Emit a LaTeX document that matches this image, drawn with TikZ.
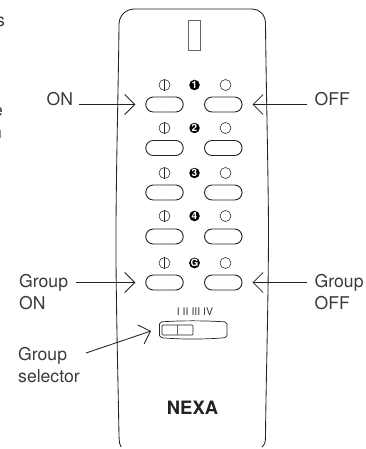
\documentclass[tikz,border=0pt]{standalone}
\usepackage{fontspec}
\setmainfont{TeX Gyre Heros}
\usetikzlibrary{arrows.meta,shapes.misc}
\definecolor{ink}{HTML}{222222}
\definecolor{txt}{HTML}{3A3A3A}
\tikzset{
  body/.style={line width=0.85pt,draw=ink},
  btn/.style={draw=ink,line width=0.9pt,rounded rectangle,minimum width=37.5pt,minimum height=15pt,inner sep=0pt},
  lamp/.style={draw=ink,line width=0.55pt,circle,minimum size=11pt,inner sep=0pt},
  num/.style={fill=black,circle,minimum size=10.5pt,inner sep=0pt,text=white,font=\fontsize{10}{10}\selectfont\bfseries},
  lbl/.style={text=txt,font=\fontsize{17.6}{22}\selectfont,inner sep=0pt,align=left},
  arr/.style={draw=ink,line width=0.85pt,-{Straight Barb[length=10pt,width=20pt,line width=0.85pt]}}
}
\begin{document}
\begin{tikzpicture}[x=1pt,y=-1pt]
\useasboundingbox (0,0) rectangle (366,449);
% fragments of text at the left edge
\node[lbl,anchor=base east] (fa) at (5,27) {s};
\node[lbl,anchor=base east] (fb) at (3,117) {e};
\node[lbl,anchor=base east] (fc) at (2,139) {n};
% body
\draw[body] (121,447) .. controls (119,444) and (119.5,442) .. (119,436)
  .. controls (118,380) and (115.5,280) .. (116,225)
  .. controls (116.5,150) and (118.5,80) .. (119,24)
  .. controls (119.5,14) and (127,9) .. (135,9)
  -- (252,9)
  .. controls (259,9) and (265,14) .. (265.5,23)
  .. controls (266,80) and (268,160) .. (268.5,225)
  .. controls (268.5,300) and (266,380) .. (265.5,436)
  .. controls (265.5,442) and (265,444) .. (262,447);
\node[draw=ink!70,line width=0.7pt,minimum width=12pt,minimum height=30pt,inner sep=0pt] (win) at (194,35) {};
% rows
\foreach \i/\y/\ly/\t in {1/104.5/85/1,2/148/128/2,3/192.5/173/3,4/236.5/216/4,5/282.5/263/G}{
  \node[btn] (bl\i) at (164.5,\y) {};
  \node[btn] (br\i) at (223.3,\y) {};
  \node[lamp] (cl\i) at (164.5,\ly) {};
  \draw[draw=ink,line width=0.55pt] (cl\i.north) -- (cl\i.south);
  \node[lamp] (cr\i) at (225.5,\ly) {};
  \node[num] (n\i) at (194.5,\ly) {\t};
}
% slider
\draw[draw=ink,line width=0.7pt,rounded corners=2pt] (159.5,322) .. controls (180,320.5) and (205,320.5) .. (227,322) -- (227,337.5) .. controls (205,339.5) and (180,339.5) .. (159.5,337.5) -- cycle;
\node[draw=ink,line width=0.7pt,rounded corners=1pt,minimum width=31pt,minimum height=10pt,inner sep=0pt] (knob) at (177.5,330) {};
\draw[draw=ink!70,line width=0.7pt] (knob.north) -- (knob.south);
\node[text=txt,font=\fontsize{10.5}{11}\selectfont,inner sep=0pt] (rom) at (195,311.5) {I II III IV};
\node[text=ink,font=\fontsize{18.4}{18}\selectfont\bfseries,inner sep=0pt] (brand) at (192.5,408) {NEXA};
% labels
\node[lbl,anchor=base west] (on) at (46.5,106) {ON};
\node[lbl,anchor=base west] (off) at (314.5,106) {OFF};
\node[lbl,anchor=base west] (gon) at (19,309) {Group\\ON};
\node[lbl,anchor=base west] (goff) at (314.5,309) {Group\\OFF};
\node[lbl,anchor=base west] (gsel) at (18,382) {Group\\selector};
% arrows
\draw[arr,shorten <=6pt,shorten >=10pt] (on.east |- bl1.west) -- (bl1.west);
\draw[arr,shorten <=8pt,shorten >=10pt] (off.west |- br1.east) -- (br1.east);
\draw[arr,shorten <=8pt,shorten >=10pt] (gon.east |- bl5.west) -- (bl5.west);
\draw[arr,shorten <=8pt,shorten >=10pt] (goff.west |- br5.east) -- (br5.east);
\coordinate (selfrom) at (86,353);
\coordinate (selto) at (151,331);
\draw[arr] (selfrom) -- (selto);
\end{tikzpicture}
\end{document}
